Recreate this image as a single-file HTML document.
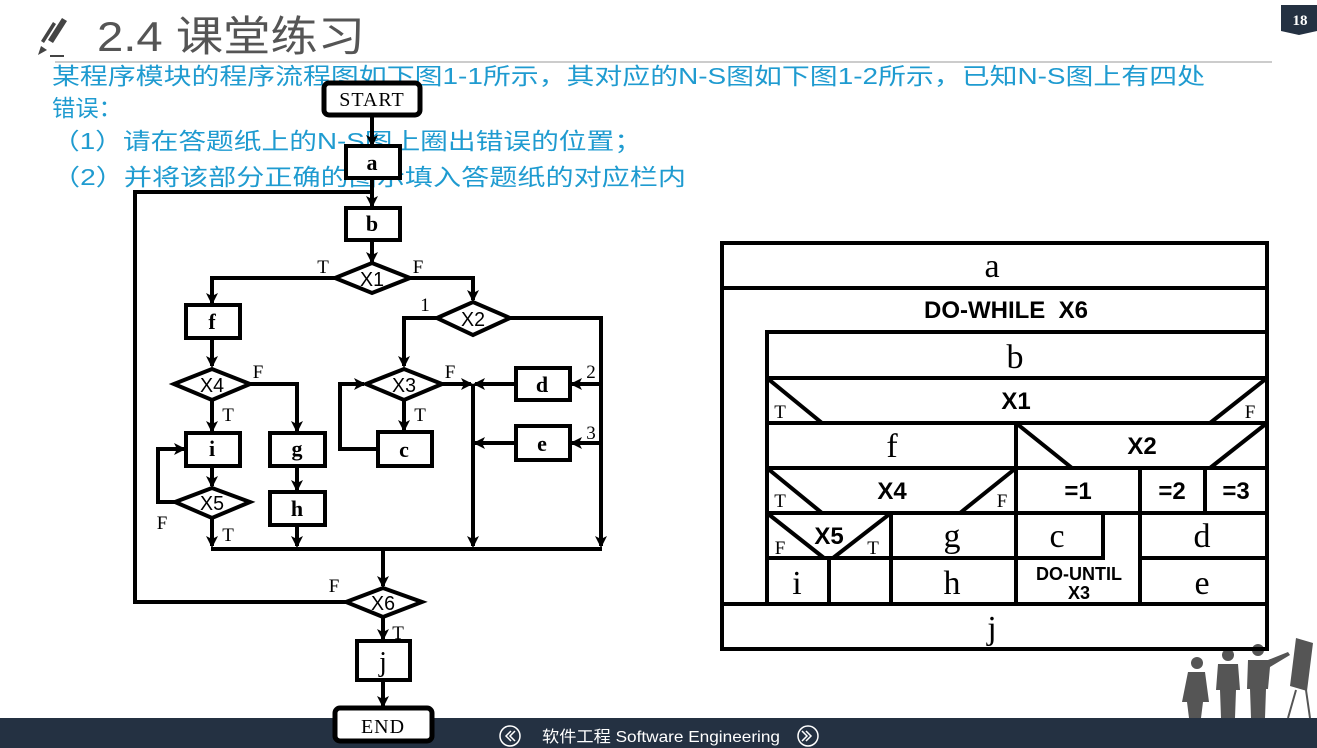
<!DOCTYPE html>
<html><head><meta charset="utf-8"><style>
html,body{margin:0;padding:0;background:#fff;width:1317px;height:748px;overflow:hidden}
svg{display:block}
.s{font-family:"Liberation Serif",serif}
.b{font-family:"Liberation Sans",sans-serif;font-weight:bold}
.cn{font-family:"Liberation Sans","Noto Sans CJK SC",sans-serif}
</style></head><body>
<svg width="1317" height="748" viewBox="0 0 1317 748" xmlns="http://www.w3.org/2000/svg">
<defs>
<marker id="ar" markerWidth="12" markerHeight="12" refX="10" refY="6" orient="auto" markerUnits="userSpaceOnUse">
<path d="M0,0 L12,6 L0,12 L3,6 z" fill="#000"/></marker>
</defs>
<!-- header -->
<g fill="#444">
<path d="M48,40 l14,-22 l5,3 l-14,22 z"/>
<path d="M43,38 l12,-19 l3,2 l-12,19 z" transform="translate(-2,3)"/>
<path d="M38,55 l3,-9 l6,4 z"/>
</g>
<line x1="50" y1="56" x2="64" y2="56" stroke="#444" stroke-width="2"/>
<text x="97" y="51" class="cn" font-size="42" fill="#555" textLength="268" lengthAdjust="spacingAndGlyphs">2.4 课堂练习</text>
<line x1="55" y1="62" x2="1272" y2="62" stroke="#999" stroke-width="1"/>
<path d="M1281,5 h36 v26 l-18,4 l-18,-4 z" fill="#243142"/>
<text x="1300" y="25" class="s" font-size="15" font-weight="bold" fill="#fff" text-anchor="middle">18</text>
<g class="cn" fill="#1f9bd0" font-size="23">
<text x="52" y="84" textLength="1153" lengthAdjust="spacingAndGlyphs">某程序模块的程序流程图如下图1-1所示，其对应的N-S图如下图1-2所示，已知N-S图上有四处</text>
<text x="52" y="116" textLength="70" lengthAdjust="spacingAndGlyphs">错误：</text>
<text x="52" y="149" textLength="590" lengthAdjust="spacingAndGlyphs">（1）请在答题纸上的N-S图上圈出错误的位置；</text>
<text x="52" y="185" textLength="634" lengthAdjust="spacingAndGlyphs">（2）并将该部分正确的图示填入答题纸的对应栏内</text>
</g>
<!-- footer -->
<rect x="0" y="718" width="1317" height="30" fill="#243142"/>
<g fill="none" stroke="#fff" stroke-width="1.5">
<circle cx="510" cy="736" r="10"/><circle cx="808" cy="736" r="10"/>
<path d="M511,731 l-5,5 l5,5 M515,731 l-5,5 l5,5 M806,731 l5,5 l-5,5 M802,731 l5,5 l-5,5"/>
</g>
<text x="542" y="742" class="cn" font-size="16" fill="#fff" textLength="238" lengthAdjust="spacingAndGlyphs">软件工程  Software Engineering</text>
<!-- silhouettes -->
<g fill="#555">
<circle cx="1197" cy="663" r="6"/><path d="M1188,672 h17 l4,30 h-6 l-2,16 h-12 l-2,-16 h-5 z"/>
<circle cx="1228" cy="655" r="6"/><path d="M1218,664 h20 l2,26 h-4 l-1,28 h-14 l-1,-28 h-4 z"/>
<circle cx="1258" cy="650" r="6"/><path d="M1248,660 h20 l20,-8 l2,3 l-20,12 l-2,22 h-2 l-1,29 h-14 l-1,-29 h-3 z"/>
<path d="M1296,638 l17,5 l-6,48 l-17,-5 z"/>
<path d="M1296,690 l-8,28 M1306,690 l4,28" stroke="#555" stroke-width="2"/>
</g>
<!-- flowchart -->
<g stroke="#000" stroke-width="4" fill="none">
<rect x="324" y="83" width="96" height="32" rx="5" fill="#fff" stroke-width="5"/>
<line x1="372" y1="115" x2="372" y2="145" marker-end="url(#ar)"/>
<rect x="346" y="146" width="54" height="32" fill="#fff"/>
<line x1="372" y1="178" x2="372" y2="206" marker-end="url(#ar)"/>
<polyline points="346,602 135,602 135,192 372,192"/>
<rect x="346" y="208" width="54" height="32" fill="#fff"/>
<line x1="372" y1="240" x2="372" y2="262" marker-end="url(#ar)"/>
<polygon points="335,278 372,263 410,278 372,293" fill="#fff"/>
<polyline points="335,278 212,278 212,303" marker-end="url(#ar)"/>
<polyline points="410,278 473,278 473,300" marker-end="url(#ar)"/>
<rect x="186" y="305" width="54" height="33" fill="#fff"/>
<polygon points="437,318 473,302 510,318 473,335" fill="#fff"/>
<polyline points="437,318 404,318 404,366" marker-end="url(#ar)"/>
<polyline points="510,318 601,318 601,546" marker-end="url(#ar)"/>
<line x1="212" y1="338" x2="212" y2="366" marker-end="url(#ar)"/>
<polygon points="174,384 212,369 250,384 212,400" fill="#fff"/>
<polyline points="250,384 297,384 297,431" marker-end="url(#ar)"/>
<line x1="212" y1="400" x2="212" y2="431" marker-end="url(#ar)"/>
<polygon points="366,384 404,369 442,384 404,400" fill="#fff"/>
<line x1="442" y1="384" x2="471" y2="384" marker-end="url(#ar)"/>
<line x1="404" y1="400" x2="404" y2="430" marker-end="url(#ar)"/>
<rect x="378" y="432" width="54" height="34" fill="#fff"/>
<polyline points="378,449 340,449 340,384 364,384" marker-end="url(#ar)"/>
<rect x="516" y="368" width="54" height="32" fill="#fff"/>
<line x1="601" y1="384" x2="572" y2="384" marker-end="url(#ar)"/>
<line x1="516" y1="384" x2="475" y2="384" marker-end="url(#ar)"/>
<rect x="516" y="426" width="54" height="34" fill="#fff"/>
<line x1="601" y1="443" x2="572" y2="443" marker-end="url(#ar)"/>
<line x1="516" y1="443" x2="475" y2="443" marker-end="url(#ar)"/>
<line x1="473" y1="384" x2="473" y2="546" marker-end="url(#ar)"/>
<rect x="186" y="433" width="54" height="33" fill="#fff"/>
<rect x="270" y="433" width="55" height="33" fill="#fff"/>
<line x1="297" y1="466" x2="297" y2="490" marker-end="url(#ar)"/>
<rect x="270" y="492" width="55" height="33" fill="#fff"/>
<line x1="297" y1="525" x2="297" y2="546" marker-end="url(#ar)"/>
<line x1="212" y1="466" x2="212" y2="486" marker-end="url(#ar)"/>
<polygon points="175,502 212,488 250,502 212,518" fill="#fff"/>
<polyline points="175,502 158,502 158,449 184,449" marker-end="url(#ar)"/>
<line x1="212" y1="518" x2="212" y2="546" marker-end="url(#ar)"/>
<line x1="211" y1="549" x2="602" y2="549"/>
<line x1="383" y1="549" x2="383" y2="586" marker-end="url(#ar)"/>
<polygon points="346,602 383,588 422,602 383,617" fill="#fff"/>
<line x1="383" y1="617" x2="383" y2="639" marker-end="url(#ar)"/>
<rect x="357" y="641" width="53" height="39" fill="#fff"/>
<line x1="383" y1="680" x2="383" y2="706" marker-end="url(#ar)"/>
<rect x="335" y="708" width="97" height="33" rx="5" fill="#fff" stroke-width="5"/>
</g>
<g class="s" font-size="22" fill="#000" text-anchor="middle">
<text x="372" y="106" font-size="20" letter-spacing="1">START</text>
<text x="383" y="733" font-size="20" letter-spacing="1">END</text>
<g font-weight="bold">
<text x="372" y="170">a</text><text x="372" y="231">b</text><text x="212" y="329">f</text>
<text x="404" y="457">c</text><text x="542" y="392">d</text><text x="542" y="451">e</text>
<text x="212" y="456">i</text><text x="297" y="456">g</text><text x="297" y="516">h</text>
<text x="383" y="671" font-weight="normal" font-size="28">j</text>
</g>
<g font-size="19">
<text x="323" y="273">T</text><text x="418" y="273">F</text>
<text x="425" y="311">1</text>
<text x="258" y="378">F</text><text x="450" y="378">F</text>
<text x="228" y="421">T</text><text x="420" y="421">T</text>
<text x="591" y="378">2</text><text x="591" y="439">3</text>
<text x="162" y="529">F</text><text x="228" y="541">T</text>
<text x="334" y="592">F</text><text x="398" y="639">T</text>
</g>
</g>
<g font-family="'Liberation Sans',sans-serif" font-size="20" text-anchor="middle" fill="#000">
<text x="372" y="286" textLength="24" lengthAdjust="spacingAndGlyphs">X1</text>
<text x="473" y="326" textLength="24" lengthAdjust="spacingAndGlyphs">X2</text>
<text x="404" y="392" textLength="24" lengthAdjust="spacingAndGlyphs">X3</text>
<text x="212" y="392" textLength="24" lengthAdjust="spacingAndGlyphs">X4</text>
<text x="212" y="510" textLength="24" lengthAdjust="spacingAndGlyphs">X5</text>
<text x="383" y="610" textLength="24" lengthAdjust="spacingAndGlyphs">X6</text>
</g>
<!-- NS diagram -->
<g stroke="#000" stroke-width="4" fill="none">
<rect x="722" y="243" width="545" height="406"/>
<line x1="722" y1="288" x2="1267" y2="288"/>
<polyline points="767,603 767,332 1267,332"/>
<line x1="722" y1="604" x2="1267" y2="604"/>
<line x1="767" y1="378" x2="1267" y2="378"/>
<line x1="767" y1="423" x2="1267" y2="423"/>
<line x1="767" y1="468" x2="1267" y2="468"/>
<line x1="767" y1="513" x2="1267" y2="513"/>
<line x1="767" y1="558" x2="1015" y2="558"/>
<line x1="1140" y1="558" x2="1267" y2="558"/>
<polyline points="1015,558 1103,558 1103,513"/>
<line x1="767" y1="378" x2="822" y2="423"/><line x1="1267" y1="378" x2="1210" y2="423"/>
<line x1="1016" y1="423" x2="1016" y2="604"/>
<line x1="1016" y1="423" x2="1072" y2="468"/><line x1="1267" y1="423" x2="1210" y2="468"/>
<line x1="767" y1="468" x2="822" y2="513"/><line x1="1016" y1="468" x2="960" y2="513"/>
<line x1="1140" y1="468" x2="1140" y2="604"/>
<line x1="1205" y1="468" x2="1205" y2="513"/>
<line x1="891" y1="513" x2="891" y2="604"/>
<line x1="767" y1="513" x2="824" y2="558"/><line x1="891" y1="513" x2="833" y2="558"/>
<line x1="829" y1="558" x2="829" y2="604"/>
</g>
<g class="s" font-size="34" fill="#000" text-anchor="middle">
<text x="992" y="277">a</text><text x="1015" y="368">b</text>
<text x="892" y="457">f</text><text x="952" y="547">g</text><text x="1057" y="547">c</text>
<text x="1202" y="547">d</text><text x="797" y="594">i</text><text x="952" y="594">h</text>
<text x="1202" y="594">e</text><text x="992" y="639">j</text>
<g font-size="19"><text x="780" y="418">T</text><text x="1250" y="418">F</text>
<text x="780" y="507">T</text><text x="1002" y="507">F</text>
<text x="780" y="554">F</text><text x="873" y="554">T</text></g>
</g>
<g class="b" font-size="24" fill="#000" text-anchor="middle">
<text x="1006" y="318" xml:space="preserve">DO-WHILE  X6</text>
<text x="1016" y="409">X1</text><text x="1142" y="454">X2</text>
<text x="892" y="499">X4</text><text x="1078" y="499">=1</text>
<text x="1172" y="499">=2</text><text x="1236" y="499">=3</text>
<text x="829" y="544">X5</text>
<text x="1079" y="580" font-size="18">DO-UNTIL</text>
<text x="1079" y="599" font-size="18">X3</text>
</g>
</svg>
</body></html>
